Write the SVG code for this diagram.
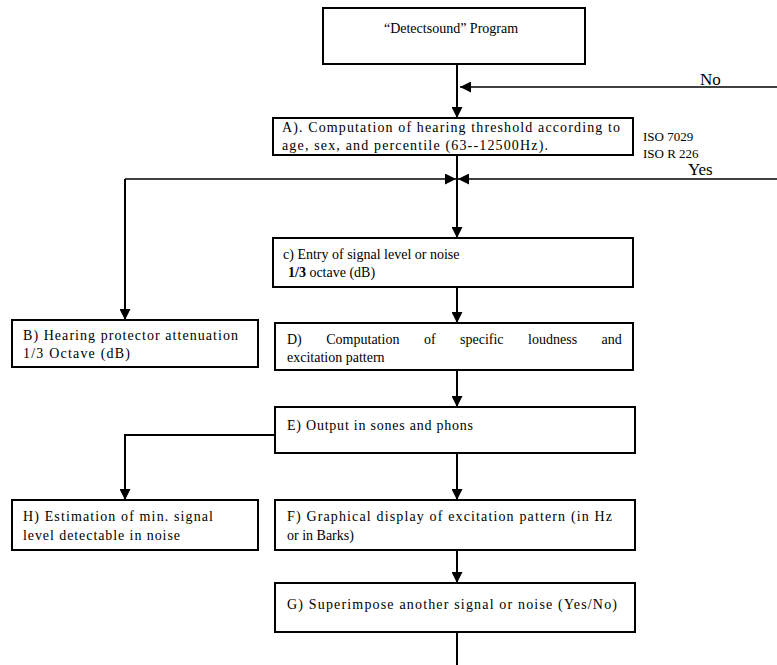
<svg xmlns="http://www.w3.org/2000/svg" width="777" height="665" viewBox="0 0 777 665">
<defs>
<marker id="ah" viewBox="0 0 10 10" refX="10" refY="5" markerWidth="11" markerHeight="11" markerUnits="userSpaceOnUse" orient="auto">
<path d="M0,0 L10,5 L0,10 Z" fill="#000"/>
</marker>
<style>
.box{fill:#fff;stroke:#000;stroke-width:2}
.t{font-family:"Liberation Serif","Times New Roman",serif;font-size:14px;fill:#000}
.s{font-size:13px}
.lbl{font-family:"Liberation Serif","Times New Roman",serif;font-size:17px;fill:#000}
.c{fill:none;stroke:#000;stroke-width:2}
.c1{fill:none;stroke:#000;stroke-width:1.5}
</style>
</defs>
<rect width="777" height="665" fill="#fff"/>
<g id="connectors">
<path class="c" d="M457,64 V118" marker-end="url(#ah)"/>
<path class="c1" d="M777,87 H460" marker-end="url(#ah)"/>
<path class="c" d="M457,155 V238" marker-end="url(#ah)"/>
<path class="c1" d="M777,179 H458" marker-end="url(#ah)"/>
<path class="c1" d="M125,179 H456" marker-end="url(#ah)"/>
<path class="c" d="M125,179 V320" marker-end="url(#ah)"/>
<path class="c" d="M457,287 V323" marker-end="url(#ah)"/>
<path class="c" d="M457,370 V407" marker-end="url(#ah)"/>
<path class="c" d="M275,435 H125 V500" marker-end="url(#ah)"/>
<path class="c" d="M457,453 V500" marker-end="url(#ah)"/>
<path class="c" d="M457,550 V583" marker-end="url(#ah)"/>
<path class="c" d="M457,632 V665"/>
</g>
<g id="start">
<rect class="box" x="323" y="8" width="262" height="56"/>
<text class="t" x="451" y="33" text-anchor="middle">“Detectsound” Program</text>
</g>
<g id="nodeA">
<rect class="box" x="273" y="118" width="360" height="37"/>
<text class="t" x="282" y="132" textLength="338" lengthAdjust="spacing">A). Computation of hearing threshold according to</text>
<text class="t" x="282" y="150" textLength="266" lengthAdjust="spacing">age, sex, and percentile (63--12500Hz).</text>
</g>
<g id="isoNote">
<text class="t s" x="643" y="141">ISO 7029</text>
<text class="t s" x="643" y="158">ISO R 226</text>
</g>
<g id="labels">
<text class="lbl" x="700" y="85">No</text>
<text class="lbl" x="688" y="175">Yes</text>
</g>
<g id="nodeC">
<rect class="box" x="273" y="238" width="360" height="49"/>
<text class="t" x="283" y="259">c) Entry of signal level or noise</text>
<text class="t" x="288" y="277"><tspan font-weight="bold">1/3</tspan> octave (dB)</text>
</g>
<g id="nodeB">
<rect class="box" x="12" y="320" width="246" height="47"/>
<text class="t" x="23" y="340" textLength="215" lengthAdjust="spacing">B) Hearing protector attenuation</text>
<text class="t" x="23" y="358" textLength="107" lengthAdjust="spacing">1/3 Octave (dB)</text>
</g>
<g id="nodeD">
<rect class="box" x="275" y="323" width="358" height="47"/>
<text class="t" x="287" y="344" word-spacing="21">D) Computation of specific loudness and</text>
<text class="t" x="287" y="362">excitation pattern</text>
</g>
<g id="nodeE">
<rect class="box" x="275" y="407" width="360" height="46"/>
<text class="t" x="287" y="430" textLength="186" lengthAdjust="spacing">E) Output in sones and phons</text>
</g>
<g id="nodeH">
<rect class="box" x="12" y="500" width="246" height="50"/>
<text class="t" x="23" y="521" textLength="190" lengthAdjust="spacing">H) Estimation of min. signal</text>
<text class="t" x="23" y="540" textLength="157" lengthAdjust="spacing">level detectable in noise</text>
</g>
<g id="nodeF">
<rect class="box" x="275" y="500" width="360" height="50"/>
<text class="t" x="287" y="521" textLength="325" lengthAdjust="spacing">F) Graphical display of excitation pattern (in Hz</text>
<text class="t" x="287" y="540">or in Barks)</text>
</g>
<g id="nodeG">
<rect class="box" x="275" y="583" width="360" height="49"/>
<text class="t" x="287" y="609" textLength="330" lengthAdjust="spacing">G) Superimpose another signal or noise (Yes/No)</text>
</g>
</svg>
